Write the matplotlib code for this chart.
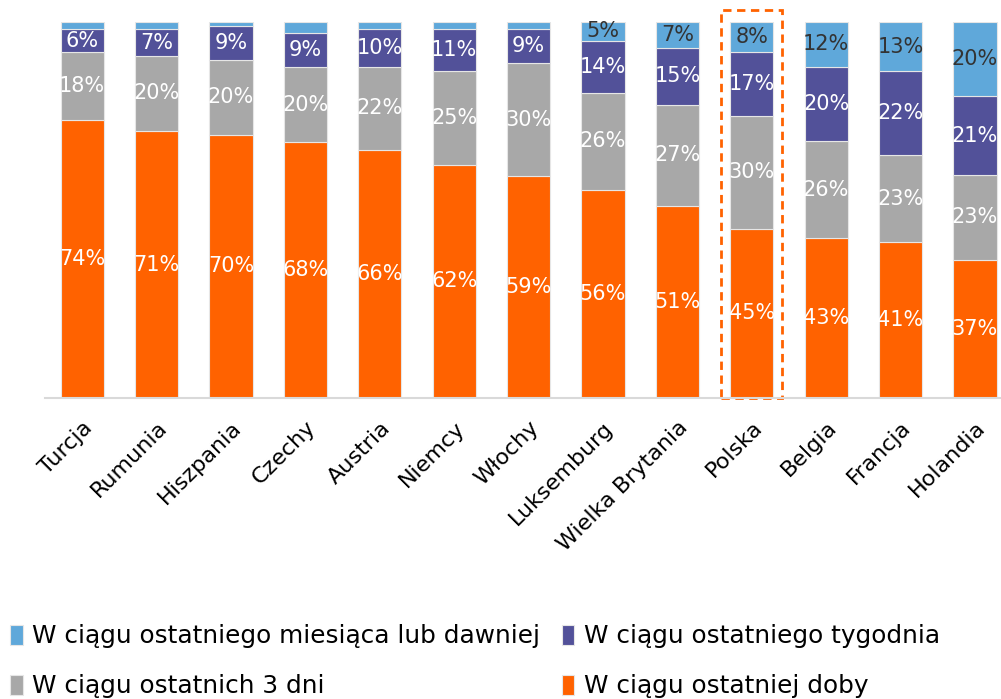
import numpy as np
import matplotlib
matplotlib.use("Agg")
import matplotlib.pyplot as plt
from matplotlib.patches import Rectangle

# dane (w %)
kraje = ["Turcja", "Rumunia", "Hiszpania", "Czechy", "Austria", "Niemcy", "Włochy",
         "Luksemburg", "Wielka Brytania", "Polska", "Belgia", "Francja", "Holandia"]
doba = [74, 71, 70, 68, 66, 62, 59, 56, 51, 45, 43, 41, 37]
dni3 = [18, 20, 20, 20, 22, 25, 30, 26, 27, 30, 26, 23, 23]
tydzien = [6, 7, 9, 9, 10, 11, 9, 14, 15, 17, 20, 22, 21]
miesiac = [2, 2, 1, 3, 2, 2, 2, 5, 7, 8, 12, 13, 20]

serie = [
    ("W ciągu ostatniej doby", doba, "#FF6200", "white"),
    ("W ciągu ostatnich 3 dni", dni3, "#A8A8A8", "white"),
    ("W ciągu ostatniego tygodnia", tydzien, "#525199", "white"),
    ("W ciągu ostatniego miesiąca lub dawniej", miesiac, "#5FA8DA", "#333333"),
]

plt.rcParams['font.family'] = ['DejaVu Sans']
fig = plt.figure(figsize=(10.01, 6.99), dpi=100)
ax = fig.add_axes([0.045, 0.4306, 0.955, 0.538])

x = np.arange(len(kraje))
suma = np.array(doba) + np.array(dni3) + np.array(tydzien) + np.array(miesiac)
dol = np.zeros(len(kraje))
uchwyty = {}
for nazwa, wart, kolor, kol_txt in serie:
    v = np.array(wart) / suma  # wykres 100%
    b = ax.bar(x, v, 0.58, bottom=dol, color=kolor, edgecolor="#e6e6e6", linewidth=0.8, label=nazwa)
    uchwyty[nazwa] = b
    for i in range(len(x)):
        if wart[i] >= 5:
            ax.text(x[i], dol[i] + v[i] / 2, f"{wart[i]}%", ha="center", va="center",
                    color=kol_txt, fontsize=15)
    dol += v

ax.set_xlim(-0.5, 12.35)
ax.set_ylim(0, 1.0)
ax.set_yticks([])
ax.set_xticks(x)
ax.set_xticklabels(kraje, rotation=45, ha="right", rotation_mode="anchor", fontsize=16)
ax.tick_params(axis="x", length=0, pad=14)
for s in ["top", "right", "left"]:
    ax.spines[s].set_visible(False)
ax.spines["bottom"].set_color("#d9d9d9")
ax.spines["bottom"].set_linewidth(1.5)

# ramka wokół Polski
ip = kraje.index("Polska")
ax.add_patch(Rectangle((ip - 0.41, 0.0), 0.82, 1.032, fill=False, edgecolor="#FF6200",
                       linestyle=(0, (3, 2)), linewidth=2, clip_on=False))

kolejnosc = ["W ciągu ostatniego miesiąca lub dawniej", "W ciągu ostatnich 3 dni",
             "W ciągu ostatniego tygodnia", "W ciągu ostatniej doby"]
fig.legend([uchwyty[k] for k in kolejnosc], kolejnosc, ncol=2, loc="lower left",
           bbox_to_anchor=(-0.012, -0.031), frameon=False, fontsize=17.8,
           handlelength=0.5, handleheight=0.9, handletextpad=0.4,
           columnspacing=0.85, labelspacing=1.05)

fig.savefig("out.png", dpi=100)
